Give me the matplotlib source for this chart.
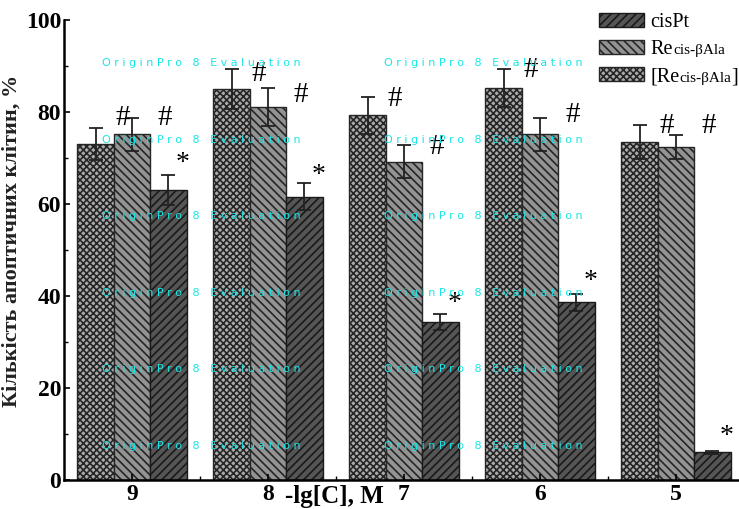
import numpy as np
import matplotlib
matplotlib.use('Agg')
import matplotlib.pyplot as plt

# дані з рисунку
conc = ['9', '8', '7', '6', '5']
complex_mean = [73.0, 85.0, 79.3, 85.2, 73.4]    # [Recis-bAla]
complex_err = [3.5, 4.3, 4.0, 4.2, 3.7]
re_mean = [75.2, 81.1, 69.2, 75.2, 72.3]         # Recis-bAla
re_err = [3.6, 4.1, 3.6, 3.6, 2.6]
cispt_mean = [63.0, 61.6, 34.3, 38.6, 6.0]       # cisPt
cispt_err = [3.2, 3.0, 1.7, 1.9, 0.3]

# висота позначок значущості
hash1_y = [78.7, 88.3, 82.8, 89.1, 77.0]
hash2_y = [78.7, 83.7, 72.4, 79.3, 77.0]
star_y = [68.7, 66.1, 38.4, 43.2, 9.5]

plt.rcParams['hatch.linewidth'] = 1.2
serif = 'Liberation Serif'

fig = plt.figure(figsize=(7.39, 5.09), dpi=100)
ax = fig.add_axes([64 / 739, 29 / 509, 680 / 739, 460 / 509])

x = np.arange(len(conc))
w = 0.268
ekw = dict(ecolor='#222222', elinewidth=1.3, capsize=5, capthick=1.3)

b_chk = ax.bar(x - w, complex_mean, w, yerr=complex_err, color='#ababab',
               edgecolor='#262626', hatch='xxxxx', linewidth=1.0, error_kw=ekw)
b_re = ax.bar(x, re_mean, w, yerr=re_err, color='#939393',
              edgecolor='#262626', hatch='\\\\\\\\', linewidth=1.0, error_kw=ekw)
b_cis = ax.bar(x + w, cispt_mean, w, yerr=cispt_err, color='#555555',
               edgecolor='#1a1a1a', hatch='////', linewidth=1.0, error_kw=ekw)

for i in range(len(conc)):
    ax.text(x[i] - 0.07, hash1_y[i], '#', ha='center', va='center', fontsize=21, family=serif)
    ax.text(x[i] + 0.24, hash2_y[i], '#', ha='center', va='center', fontsize=21, family=serif)
    ax.text(x[i] + 0.37, star_y[i], '*', ha='center', va='center', fontsize=20, family=serif)

ax.set_xlim(-0.5, 4.5)
ax.set_ylim(0, 100)
ax.set_xticks(x)
ax.set_xticklabels(conc)
ax.set_xticks(x[:-1] + 0.5, minor=True)
ax.set_yticks(np.arange(0, 101, 20))
ax.set_yticks(np.arange(10, 100, 20), minor=True)
for lab in ax.get_xticklabels() + ax.get_yticklabels():
    lab.set_family(serif)
    lab.set_fontweight('bold')
    lab.set_fontsize(17)
ax.tick_params(axis='both', which='major', direction='in', length=4, width=1.2, pad=2)
ax.tick_params(axis='both', which='minor', direction='in', length=3, width=1.0)
ax.tick_params(axis='x', which='major', pad=3)

for s in ['top', 'right']:
    ax.spines[s].set_visible(False)
for s in ['left', 'bottom']:
    ax.spines[s].set_linewidth(1.8)

ax.set_ylabel('Кількість апоптичних клітин, %', family=serif, fontweight='bold',
              fontsize=16, color='#222222')
ax.yaxis.set_label_coords(-0.062, 0.52)
ax.text(1.49, -0.035, '-lg[C], M', transform=ax.get_xaxis_transform(), ha='center',
        va='center', family=serif, fontweight='bold', fontsize=18)

leg = ax.legend([b_cis, b_re, b_chk], ['cisPt', 'Re', '[Re'], frameon=False,
                loc='upper left', bbox_to_anchor=(586 / 739, 1.0),
                bbox_transform=fig.transFigure, prop=dict(family=serif, size=14.5),
                handlelength=2.25, handleheight=0.68, handletextpad=0.3,
                labelspacing=0.4, borderpad=0.15)
texts = leg.get_texts()
for t, tail in [(texts[1], ''), (texts[2], ']')]:
    sub = ax.annotate('cis-βAla', xy=(1, 0), xycoords=t, xytext=(0, 1.2),
                      textcoords='offset points', ha='left', va='bottom',
                      fontsize=11, family=serif, zorder=6, annotation_clip=False)
    if tail:
        ax.annotate(tail, xy=(1, 0), xycoords=sub, xytext=(0, -1.2),
                    textcoords='offset points', ha='left', va='bottom',
                    fontsize=14.5, family=serif, zorder=6, annotation_clip=False)

# водяний знак
wm = 'O r i g i n P r o   8   E v a l u a t i o n'
for py in [63, 140, 216, 293, 369, 446]:
    for px in [102, 384]:
        fig.text(px / 739, 1 - py / 509, wm, color='#19e6e6', fontsize=8,
                 ha='left', va='center', zorder=10)

plt.savefig('out.png', dpi=100)
